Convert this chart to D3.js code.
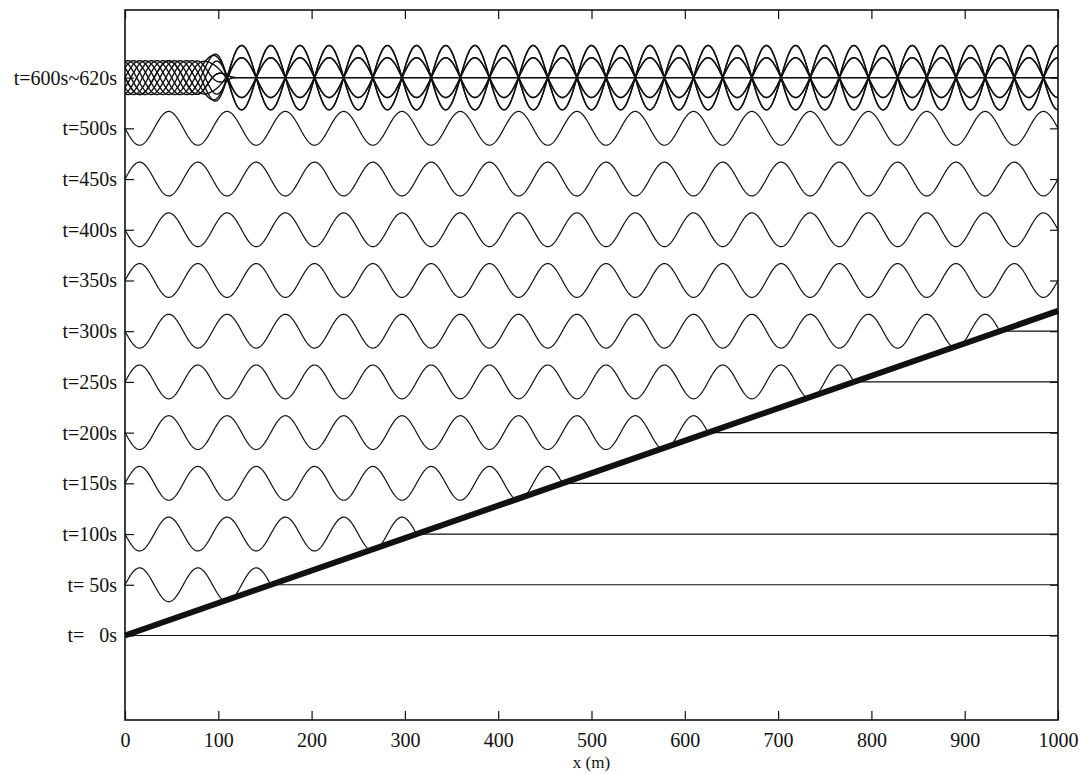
<!DOCTYPE html>
<html>
<head>
<meta charset="utf-8">
<script src="https://cdn.jsdelivr.net/npm/d3@7"></script>
<style>
  body { margin: 0; background: #fff; }
  svg text { font-family: "Liberation Serif", "Times New Roman", serif; fill: #111; }
</style>
</head>
<body>
<div id="viz"></div>
<script>
// Rows of the figure (one snapshot per row)
const rowTimes = [0, 50, 100, 150, 200, 250, 300, 350, 400, 450, 500];
const rowLabels = ["t=   0s", "t= 50s", "t=100s", "t=150s", "t=200s", "t=250s",
                   "t=300s", "t=350s", "t=400s", "t=450s", "t=500s", "t=600s~620s"];
// overlaid snapshots in the top row
const topTimes = [600, 602, 604, 606, 608, 610, 612, 614, 616, 618, 620];
const xTicks = [0, 100, 200, 300, 400, 500, 600, 700, 800, 900, 1000];

// wave
const waveLength = 62.5;   // m, crest to crest
const wavePeriod = 20;     // s
const waveAmp = 1;         // half height, in row units
const rowSpacing = 3;      // row units between baselines
const blendZone = [75, 120]; // m, where the top row turns into a standing wave

// thick front line: x (m) and t (s) of both ends
const frontX = [0, 1000];
const frontT = [0, 320];

const width = 1080, height = 774;
const margin = { top: 10, right: 22, bottom: 54, left: 125 };

const svg = d3.select("#viz")
    .append("svg")
    .attr("width", width)
    .attr("height", height);

const x = d3.scaleLinear()
    .domain([0, 1000])
    .range([margin.left, width - margin.right]);

const y = d3.scaleLinear()
    .domain([-5, 37])
    .range([height - margin.bottom, margin.top]);

const k = 2 * Math.PI / waveLength;
const w = 2 * Math.PI / wavePeriod;
const c = waveLength / wavePeriod;

function eta(xm, t) {
    if (xm > c * t) return 0;
    return waveAmp * Math.sin(w * t - k * xm);
}

function etaTop(xm, t) {
    const inc = waveAmp * Math.sin(w * t - k * xm);
    const refl = waveAmp * Math.sin(w * t + k * xm);
    let s = (xm - blendZone[0]) / (blendZone[1] - blendZone[0]);
    s = Math.max(0, Math.min(1, s));
    s = s * s * (3 - 2 * s);
    return inc + s * refl;
}

const xs = d3.range(0, 1000.001, 0.5);

const line = d3.line()
    .x(d => x(d[0]))
    .y(d => y(d[1]));

const plot = svg.append("g");

// single snapshots
rowTimes.forEach((t, i) => {
    const base = i * rowSpacing;
    plot.append("path")
        .datum(xs.map(xm => [xm, base + eta(xm, t)]))
        .attr("d", line)
        .attr("fill", "none")
        .attr("stroke", "#111")
        .attr("stroke-width", 1.2);
});

// overlaid snapshots
const topBase = rowTimes.length * rowSpacing;
topTimes.forEach(t => {
    plot.append("path")
        .datum(xs.map(xm => [xm, topBase + etaTop(xm, t)]))
        .attr("d", line)
        .attr("fill", "none")
        .attr("stroke", "#111")
        .attr("stroke-width", 1.4);
});

// front line
plot.append("path")
    .datum(frontX.map((xm, i) => [xm, frontT[i] / (rowTimes[1] - rowTimes[0]) * rowSpacing]))
    .attr("d", line)
    .attr("fill", "none")
    .attr("stroke", "#111")
    .attr("stroke-width", 6);

// axes
const rowValues = rowLabels.map((d, i) => i * rowSpacing);
const plotH = height - margin.top - margin.bottom;
const plotW = width - margin.left - margin.right;

svg.append("g")
    .attr("transform", `translate(0,${height - margin.bottom})`)
    .call(d3.axisBottom(x).tickValues(xTicks).tickSizeInner(-9).tickSizeOuter(0)
        .tickPadding(13).tickFormat(d3.format("d")));

svg.append("g")
    .attr("transform", `translate(0,${margin.top})`)
    .call(d3.axisTop(x).tickValues(xTicks).tickSizeInner(-9).tickSizeOuter(0).tickFormat(""));

svg.append("g")
    .attr("transform", `translate(${margin.left},0)`)
    .call(d3.axisLeft(y).tickValues(rowValues).tickSizeInner(-9).tickSizeOuter(0)
        .tickPadding(8).tickFormat((d, i) => rowLabels[i]));

svg.append("g")
    .attr("transform", `translate(${width - margin.right},0)`)
    .call(d3.axisRight(y).tickValues(rowValues).tickSizeInner(-8).tickSizeOuter(0).tickFormat(""));

svg.selectAll(".domain").remove();
svg.selectAll(".tick line").attr("stroke", "#111").attr("stroke-width", 1.2);
svg.selectAll(".tick text")
    .attr("font-family", "Liberation Serif, Times New Roman, serif")
    .style("font-size", "20px")
    .style("white-space", "pre");

svg.append("rect")
    .attr("x", margin.left)
    .attr("y", margin.top)
    .attr("width", plotW)
    .attr("height", plotH)
    .attr("fill", "none")
    .attr("stroke", "#111")
    .attr("stroke-width", 1.6);

svg.append("text")
    .attr("x", margin.left + plotW / 2)
    .attr("y", 768)
    .attr("text-anchor", "middle")
    .style("font-size", "17px")
    .text("x (m)");
</script>
</body>
</html>
